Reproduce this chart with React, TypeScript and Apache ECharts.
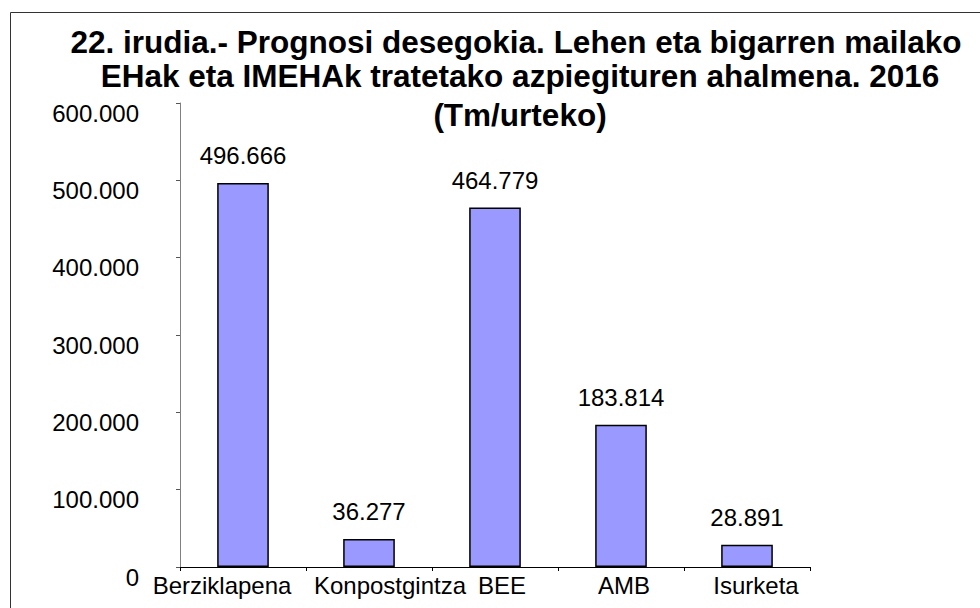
import React, { useEffect, useRef } from "react";
import * as echarts from "echarts";

const categories = ["Berziklapena", "Konpostgintza", "BEE", "AMB", "Isurketa"];
const values = [496666, 36277, 464779, 183814, 28891];
const titleLines = [
  "22. irudia.- Prognosi desegokia. Lehen eta bigarren mailako",
  "EHak eta IMEHAk tratetako azpiegituren ahalmena. 2016",
  "(Tm/urteko)",
];
// layout: title line centres / tops, category label shifts (px)
const titleCenters = [511, 515, 515];
const titleTops = [21, 55, 94];
const labelShift = [-21, 21, 7, 3, 9];

const FONT = "'Liberation Sans', Arial, sans-serif";

function fmt(v: number): string {
  const s = Math.round(v).toString();
  return s.replace(/\B(?=(\d{3})+(?!\d))/g, ".");
}

export default function App() {
  const ref = useRef<HTMLDivElement>(null);
  useEffect(() => {
    if (!ref.current) return;
    const chart = echarts.init(ref.current, undefined, { renderer: "svg" });
    const catData = categories.map((c, i) => {
      const s = labelShift[i];
      return {
        value: c,
        textStyle: {
          padding: s >= 0 ? [0, 0, 0, 2 * s] : [0, -2 * s, 0, 0],
        },
      };
    });
    chart.setOption({
      animation: false,
      backgroundColor: "#ffffff",
      textStyle: { fontFamily: FONT },
      title: titleLines.map((t, i) => ({
        text: t,
        left: titleCenters[i],
        top: titleTops[i],
        textAlign: "center",
        textStyle: {
          fontFamily: FONT,
          fontSize: 31.5,
          fontWeight: "bold",
          color: "#000",
          lineHeight: 32,
        },
      })),
      graphic: [
        {
          type: "rect",
          shape: { x: 10.5, y: 12.5, width: 1000, height: 700 },
          style: { fill: "none", stroke: "#333", lineWidth: 1 },
          silent: true,
          z: -1,
        },
      ],
      grid: { left: 180, right: 170, top: 103, bottom: 41, containLabel: false },
      xAxis: {
        type: "category",
        data: catData,
        axisLine: { lineStyle: { color: "#000", width: 1 } },
        axisTick: { show: true, length: 4, lineStyle: { color: "#000" }, alignWithLabel: false },
        axisLabel: {
          interval: 0,
          margin: 6,
          fontSize: 24,
          color: "#000",
          fontFamily: FONT,
        },
      },
      yAxis: {
        type: "value",
        min: 0,
        max: 600000,
        interval: 100000,
        splitLine: { show: false },
        axisLine: { show: true, lineStyle: { color: "#808080", width: 1 } },
        axisTick: { show: true, length: 4, lineStyle: { color: "#555" } },
        axisLabel: {
          margin: 41,
          fontSize: 24,
          color: "#000",
          fontFamily: FONT,
          verticalAlign: "top",
          lineHeight: 20,
          formatter: (v: number) => fmt(v),
        },
      },
      series: [
        {
          type: "bar",
          data: values,
          barWidth: "41%",
          itemStyle: { color: "#9999FF", borderColor: "#000", borderWidth: 1.5 },
          label: {
            show: true,
            position: "top",
            distance: 15,
            fontSize: 24,
            color: "#000",
            fontFamily: FONT,
            formatter: (p: any) => fmt(p.value),
          },
        },
      ],
    });
    return () => chart.dispose();
  }, []);
  return (
    <div
      ref={ref}
      style={{ position: "absolute", left: 0, top: 0, width: 980, height: 608 }}
    />
  );
}
